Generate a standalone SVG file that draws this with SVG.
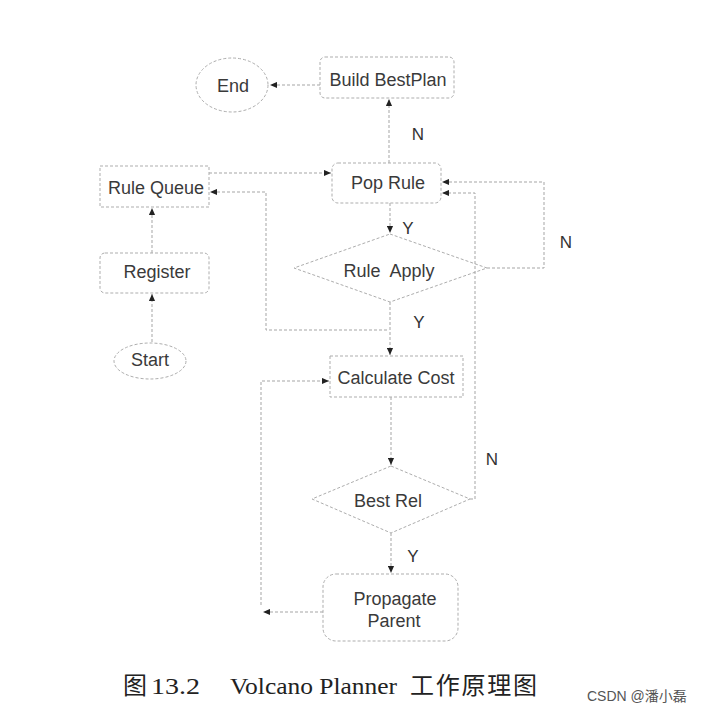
<svg xmlns="http://www.w3.org/2000/svg" width="701" height="715" viewBox="0 0 701 715">
<style>
.box{fill:none;stroke:#adadad;stroke-width:1;stroke-dasharray:3 2}
.ln{fill:none;stroke:#a5a5a5;stroke-width:1;stroke-dasharray:3 2}
.t{font-family:"Liberation Sans",Arial,sans-serif;font-size:18px;fill:#3a3a3a;text-anchor:middle}
.lb{font-family:"Liberation Sans",Arial,sans-serif;font-size:17px;fill:#333;text-anchor:middle}
.cap{font-family:"Liberation Serif","Noto Sans CJK SC",serif;font-size:24px;fill:#222}
.wm{font-family:"Liberation Sans","Noto Sans CJK SC",sans-serif;font-size:14px;fill:#555}
</style>
<defs>
<marker id="ah" viewBox="0 0 8 8" refX="8" refY="4" markerWidth="7" markerHeight="7" markerUnits="userSpaceOnUse" orient="auto">
<path d="M0,0.5 L8,4 L0,7.5 Z" fill="#222"/>
</marker>
</defs>
<rect width="701" height="715" fill="#fff"/>
<g id="connectors">
<path class="ln" d="M320,85 H270" marker-end="url(#ah)"/>
<path class="ln" d="M389,163 V99" marker-end="url(#ah)"/>
<path class="ln" d="M209,173 H331" marker-end="url(#ah)"/>
<path class="ln" d="M152,253 V208" marker-end="url(#ah)"/>
<path class="ln" d="M152,342 V294" marker-end="url(#ah)"/>
<path class="ln" d="M390,203 V233" marker-end="url(#ah)"/>
<path class="ln" d="M487,268 H544 V182 H442" marker-end="url(#ah)"/>
<path class="ln" d="M390,302 V355" marker-end="url(#ah)"/>
<path class="ln" d="M387,330 H266 V192 H210" marker-end="url(#ah)"/>
<path class="ln" d="M391,397 V465" marker-end="url(#ah)"/>
<path class="ln" d="M470,499 H475 V193 H442" marker-end="url(#ah)"/>
<path class="ln" d="M391,533 V573" marker-end="url(#ah)"/>
<path class="ln" d="M323,612 H263" marker-end="url(#ah)"/>
<path class="ln" d="M261,605 V381 H329" marker-end="url(#ah)"/>
<text class="lb" x="418" y="140">N</text>
<text class="lb" x="408" y="234">Y</text>
<text class="lb" x="566" y="248">N</text>
<text class="lb" x="419" y="328">Y</text>
<text class="lb" x="492" y="465">N</text>
<text class="lb" x="413" y="562">Y</text>
</g>
<g id="end">
<ellipse class="box" cx="232" cy="85" rx="36" ry="27"/>
<text class="t" x="233" y="92">End</text>
</g>
<g id="build-bestplan">
<rect class="box" x="320" y="57" width="134" height="41" rx="5"/>
<text class="t" x="388" y="86">Build BestPlan</text>
</g>
<g id="rule-queue">
<rect class="box" x="100" y="166" width="109" height="41"/>
<text class="t" x="156" y="194">Rule Queue</text>
</g>
<g id="pop-rule">
<rect class="box" x="332" y="163" width="109" height="40" rx="6"/>
<text class="t" x="388" y="189">Pop Rule</text>
</g>
<g id="rule-apply">
<polygon class="box" points="390,234 487,268 390,302 294,268"/>
<text class="t" x="389" y="277" xml:space="preserve">Rule  Apply</text>
</g>
<g id="register">
<rect class="box" x="100" y="253" width="109" height="40" rx="5"/>
<text class="t" x="157" y="278">Register</text>
</g>
<g id="start">
<ellipse class="box" cx="150" cy="361" rx="36" ry="18"/>
<text class="t" x="150" y="366">Start</text>
</g>
<g id="calculate-cost">
<rect class="box" x="330" y="356" width="133" height="41"/>
<text class="t" x="396" y="384">Calculate Cost</text>
</g>
<g id="best-rel">
<polygon class="box" points="391,466 470,499 391,533 312,499"/>
<text class="t" x="388" y="507">Best Rel</text>
</g>
<g id="propagate-parent">
<rect class="box" x="323" y="574" width="135" height="67" rx="13"/>
<text class="t" x="395" y="605">Propagate</text>
<text class="t" x="394" y="627">Parent</text>
</g>
<g id="caption">
<text class="cap" x="123" y="694">图</text>
<text class="cap" x="151" y="694" textLength="49" lengthAdjust="spacingAndGlyphs">13.2</text>
<text class="cap" x="230" y="694" textLength="167" lengthAdjust="spacingAndGlyphs">Volcano Planner</text>
<text class="cap" x="410" y="694" textLength="127" lengthAdjust="spacing">工作原理图</text>
<text class="wm" x="587" y="701">CSDN @潘小磊</text>
</g>
</svg>
